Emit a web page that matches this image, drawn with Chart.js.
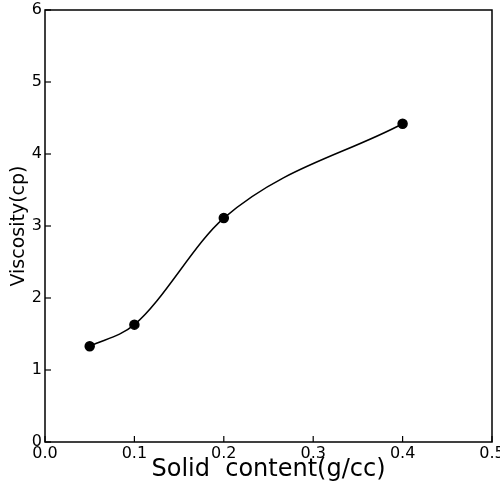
<!DOCTYPE html>
<html><head><meta charset="utf-8">
<script src="https://cdn.jsdelivr.net/npm/chart.js@4/dist/chart.umd.min.js"></script>
<style>html,body{margin:0;padding:0;background:#fff}#wrap{width:500px;height:486px}</style>
</head><body><div id="wrap"><canvas id="c" width="500" height="486"></canvas></div>
<script>
const solidContent = [0.05, 0.1, 0.2, 0.4];
const viscosity = [1.33, 1.63, 3.11, 4.42];
const xTicks = [0, 0.1, 0.2, 0.3, 0.4, 0.5];
const yTicks = [0, 1, 2, 3, 4, 5, 6];
const xTitle = 'Solid  content(g/cc)';
const yTitle = 'Viscosity(cp)';
const FONT = "'DejaVu Sans', 'Liberation Sans', Arial, sans-serif";

const framePlugin = {
  id: 'frame',
  afterDraw(chart) {
    const {ctx, chartArea: a, scales} = chart;
    ctx.save();
    ctx.strokeStyle = '#000';
    ctx.lineWidth = 1.5;
    ctx.strokeRect(a.left, a.top, a.right - a.left, a.bottom - a.top);
    ctx.lineWidth = 1.2;
    xTicks.forEach(v => {
      const x = scales.x.getPixelForValue(v);
      ctx.beginPath(); ctx.moveTo(x, a.bottom); ctx.lineTo(x, a.bottom - 6); ctx.stroke();
    });
    yTicks.forEach(v => {
      const y = scales.y.getPixelForValue(v);
      ctx.beginPath(); ctx.moveTo(a.left, y); ctx.lineTo(a.left + 6, y); ctx.stroke();
    });
    ctx.fillStyle = '#000';
    ctx.font = '19px ' + FONT;
    ctx.textAlign = 'center';
    ctx.textBaseline = 'middle';
    ctx.translate(19, (a.top + a.bottom) / 2);
    ctx.rotate(-Math.PI / 2);
    ctx.fillText(yTitle, 0, 0);
    ctx.restore();
  }
};

new Chart(document.getElementById('c'), {
  type: 'scatter',
  data: {
    datasets: [{
      data: solidContent.map((x, i) => ({x, y: viscosity[i]})),
      showLine: true,
      borderColor: '#000',
      backgroundColor: '#000',
      borderWidth: 1.5,
      pointRadius: 4.5,
      pointHoverRadius: 4.5,
      cubicInterpolationMode: 'monotone'
    }]
  },
  options: {
    responsive: false,
    animation: false,
    events: [],
    layout: {padding: {top: 0, right: 0, left: 0, bottom: 0}},
    plugins: {legend: {display: false}, tooltip: {enabled: false}},
    scales: {
      x: {
        type: 'linear', min: 0, max: 0.5,
        afterBuildTicks(s) { s.ticks = xTicks.map(v => ({value: v})); },
        afterFit(s) { s.height = 44; s.paddingRight = 8; s.paddingLeft = 0; },
        grid: {display: false, drawTicks: false},
        border: {display: false},
        ticks: {color: '#000', font: {family: FONT, size: 16}, padding: 2,
          callback: v => v.toFixed(1)},
        title: {display: true, text: xTitle, color: '#000', font: {family: FONT, size: 24}, padding: {top: 0, bottom: 2}}
      },
      y: {
        type: 'linear', min: 0, max: 6,
        afterBuildTicks(s) { s.ticks = yTicks.map(v => ({value: v})); },
        afterFit(s) { s.width = 45; s.paddingTop = 10; s.paddingBottom = 0; },
        grid: {display: false, drawTicks: false},
        border: {display: false},
        ticks: {color: '#000', font: {family: FONT, size: 16}, padding: 3,
          callback: v => String(v)}
      }
    }
  },
  plugins: [framePlugin]
});
</script></body></html>
